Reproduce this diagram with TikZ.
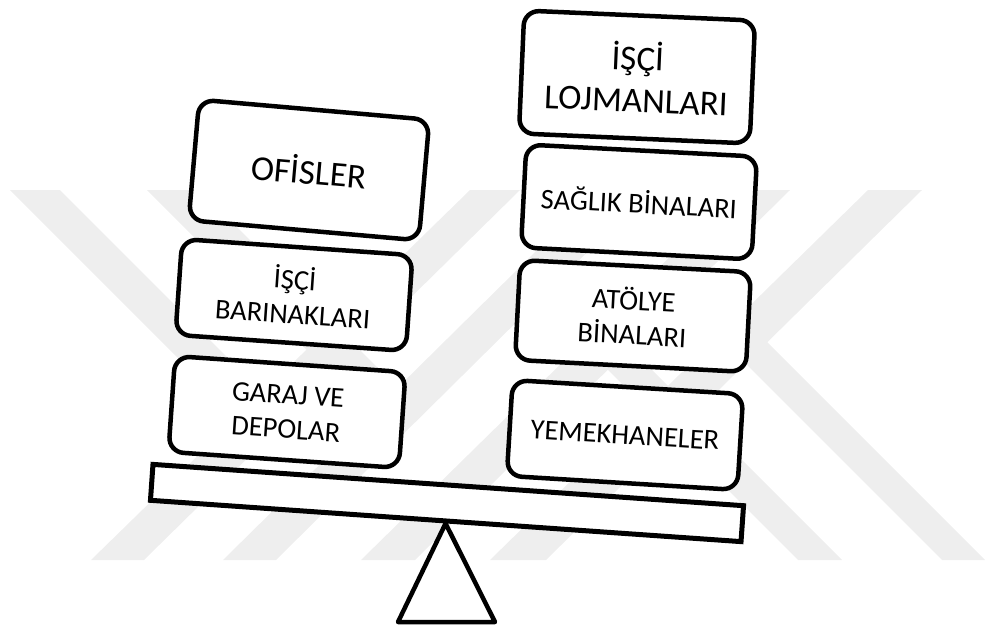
\documentclass[tikz,border=0pt]{standalone}
\usepackage{fontspec}
\setmainfont{Carlito}
\definecolor{filigran}{gray}{0.935}
\newcommand{\kucukyazi}{\fontsize{28.5}{34.5}\selectfont}
\newcommand{\buyukyazi}{\fontsize{35}{42}\selectfont}
\tikzset{
  kutu/.style={draw, fill=white, line width=4.5pt, rounded corners=15pt, inner sep=0pt,
    align=center, font=\kucukyazi, minimum width=231pt},
  tahta/.style={draw, fill=white, line width=5pt, minimum width=592pt, minimum height=36pt, inner sep=0pt},
  ayak/.style={line width=4.5pt, line join=round},
}
\begin{document}
\begin{tikzpicture}[x=1pt,y=-1pt]
  \useasboundingbox (0,0) rectangle (985,632);
  \begin{scope}[filigran] % arka plandaki filigran
    \fill (91,560) -- (144,560) -- (520,190) -- (470,190) -- cycle; % / seritler
    \fill (223,560) -- (276,560) -- (650,190) -- (598,190) -- cycle;
    \fill (361,560) -- (415,560) -- (790,190) -- (738,190) -- cycle;
    \fill (490,560) -- (546,560) -- (922,190) -- (868,190) -- cycle;
    \fill (10,190) -- (60,190) -- (275,405) -- (250,430) -- cycle; % \ seritler
    \fill (147,190) -- (200,190) -- (411,401) -- (385,428) -- cycle;
    \fill (798,560) -- (842,560) -- (617,335) -- (595,357) -- cycle;
    \fill (942,560) -- (985,560) -- (754,329) -- (732,350) -- cycle;
  \end{scope}
  \node[tahta, rotate=-4] (kiris) at (447,503) {}; % terazi kolu
  \draw[ayak] (398,622) -- (kiris.south) -- (495,622) -- cycle; % destek ucgeni
  % sol kefe
  \node[kutu, rotate=-4, minimum height=96pt] (garaj) at (287,412) {GARAJ VE\\DEPOLAR};
  \node[kutu, rotate=-4, minimum height=96pt] (barinak) at (294,295) {İŞÇİ\\BARINAKLARI};
  \node[kutu, rotate=-5, minimum height=121pt, font=\buyukyazi] (ofis) at (309,170) {OFİSLER};
  % sag kefe
  \node[kutu, rotate=-3.5, minimum height=96pt] (yemek) at (625,435) {YEMEKHANELER};
  \node[kutu, rotate=-3, minimum height=100pt] (atolye) at (633,316) {ATÖLYE\\BİNALARI};
  \node[kutu, rotate=-3, minimum height=103pt] (saglik) at (639,202) {SAĞLIK BİNALARI};
  \node[kutu, rotate=-2.5, minimum height=123pt, font=\buyukyazi] (lojman) at (637,77) {İŞÇİ\\LOJMANLARI};
\end{tikzpicture}
\end{document}
